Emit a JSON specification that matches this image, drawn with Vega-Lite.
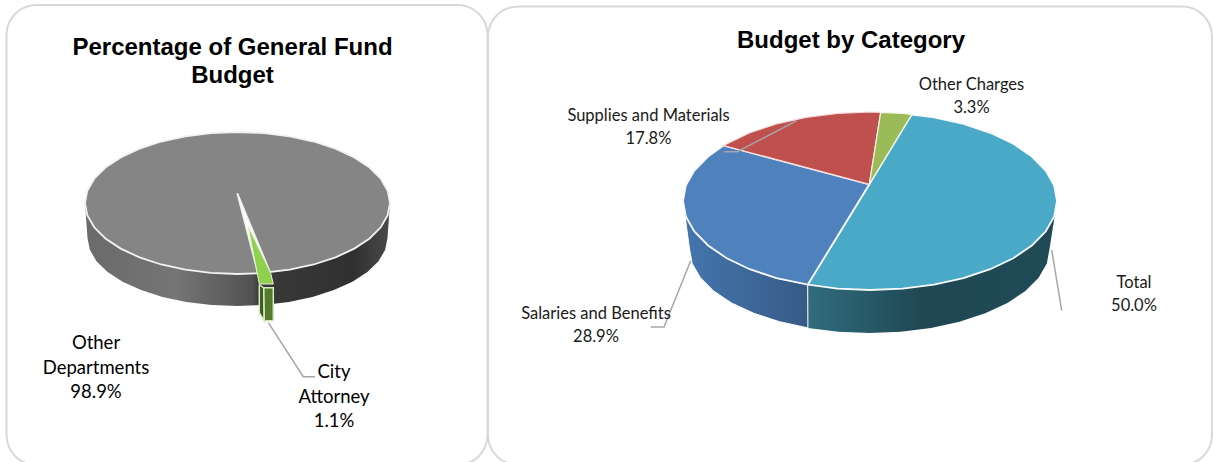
{"$schema":"https://vega.github.io/schema/vega-lite/v6.json","width":1213,"height":462,"padding":0,"autosize":{"type":"none"},"background":"white","view":{"stroke":null},"encoding":{"x":{"field":"x","type":"quantitative","axis":null,"scale":{"domain":[0,1213],"nice":false,"zero":false}},"y":{"field":"y","type":"quantitative","axis":null,"scale":{"domain":[0,462],"reverse":true,"nice":false,"zero":false}}},"layer":[
{"data":{"values":[{"panel":"left","x":6.5,"x2":487.5,"y":5,"y2":465},{"panel":"right","x":488,"x2":1212,"y":6.5,"y2":465}]},"mark":{"type":"rect","cornerRadius":30,"fill":"white","stroke":"#d9d9d9","strokeWidth":2},"encoding":{"x2":{"field":"x2"},"y2":{"field":"y2"}}},
{"data":{"values":[{"x":85,"y":203},{"x":87.3,"y":215.3},{"x":94.2,"y":227.3},{"x":105.4,"y":238.5},{"x":120.7,"y":248.6},{"x":139.5,"y":257.4},{"x":161.2,"y":264.5},{"x":185.3,"y":269.7},{"x":211,"y":272.9},{"x":237.5,"y":274},{"x":264,"y":272.9},{"x":289.7,"y":269.7},{"x":313.8,"y":264.5},{"x":335.5,"y":257.4},{"x":354.3,"y":248.6},{"x":369.6,"y":238.5},{"x":380.8,"y":227.3},{"x":387.7,"y":215.3},{"x":390,"y":203},{"x":387.5,"y":238},{"x":385.2,"y":249.8},{"x":378.5,"y":261.3},{"x":367.4,"y":272},{"x":352.4,"y":281.7},{"x":333.9,"y":290.1},{"x":312.5,"y":296.9},{"x":288.8,"y":301.9},{"x":263.5,"y":305},{"x":237.5,"y":306},{"x":211.5,"y":305},{"x":186.2,"y":301.9},{"x":162.5,"y":296.9},{"x":141.1,"y":290.1},{"x":122.6,"y":281.7},{"x":107.6,"y":272},{"x":96.5,"y":261.3},{"x":89.8,"y":249.8},{"x":87.5,"y":238},{"x":85,"y":203}]},"mark":{"type":"line","order":null,"strokeWidth":0,"fill":{"gradient":"linear","x1":0,"y1":0,"x2":1,"y2":0,"stops":[{"offset":0,"color":"#6a6a6a"},{"offset":0.3,"color":"#757575"},{"offset":0.55,"color":"#525252"},{"offset":0.57,"color":"#3a3a3a"},{"offset":0.88,"color":"#303030"},{"offset":1,"color":"#4a4a4a"}]}}},
{"data":{"values":[{"x":237.3,"y":193.3},{"x":270,"y":272},{"x":289.7,"y":269.7},{"x":313.8,"y":264.5},{"x":335.5,"y":257.4},{"x":354.3,"y":248.6},{"x":369.6,"y":238.5},{"x":380.8,"y":227.3},{"x":387.7,"y":215.3},{"x":390,"y":203},{"x":387.7,"y":190.7},{"x":380.8,"y":178.7},{"x":369.6,"y":167.5},{"x":354.3,"y":157.4},{"x":335.5,"y":148.6},{"x":313.8,"y":141.5},{"x":289.7,"y":136.3},{"x":264,"y":133.1},{"x":237.5,"y":132},{"x":211,"y":133.1},{"x":185.3,"y":136.3},{"x":161.2,"y":141.5},{"x":139.5,"y":148.6},{"x":120.7,"y":157.4},{"x":105.4,"y":167.5},{"x":94.2,"y":178.7},{"x":87.3,"y":190.7},{"x":85,"y":203},{"x":87.3,"y":215.3},{"x":94.2,"y":227.3},{"x":105.4,"y":238.5},{"x":120.7,"y":248.6},{"x":139.5,"y":257.4},{"x":161.2,"y":264.5},{"x":185.3,"y":269.7},{"x":211,"y":272.9},{"x":237.5,"y":274},{"x":258,"y":273.3},{"x":237.3,"y":193.3}]},"mark":{"type":"line","order":null,"fill":"#858585","stroke":"#f2f2f2","strokeWidth":1.8}},
{"data":{"values":[{"x":259.3,"y":284.5},{"x":263.8,"y":288},{"x":264.3,"y":321},{"x":259.3,"y":313},{"x":259.3,"y":284.5}]},"mark":{"type":"line","order":null,"fill":"#3f5a20","stroke":"#d8ecc0","strokeWidth":1.5}},
{"data":{"values":[{"x":263.8,"y":287.7},{"x":273.3,"y":287.7},{"x":273.3,"y":320.5},{"x":264.3,"y":321},{"x":263.8,"y":287.7}]},"mark":{"type":"line","order":null,"fill":"#557a2d","stroke":"#d8ecc0","strokeWidth":1.5}},
{"data":{"values":[{"x":248,"y":226},{"x":270.5,"y":272.5},{"x":273.3,"y":284},{"x":259.3,"y":284},{"x":248,"y":226}]},"mark":{"type":"line","order":null,"fill":"#8fd14f","stroke":"#e4f2d2","strokeWidth":1}},
{"data":{"values":[{"x":1057,"y":201},{"x":1054.2,"y":216.5},{"x":1045.7,"y":231.4},{"x":1031.9,"y":245.5},{"x":1013.3,"y":258.2},{"x":990.2,"y":269.2},{"x":963.5,"y":278.1},{"x":934,"y":284.6},{"x":902.5,"y":288.6},{"x":870,"y":290},{"x":837.5,"y":288.6},{"x":807.7,"y":284.6},{"x":807.9,"y":327.9},{"x":838.2,"y":331.7},{"x":869.5,"y":333},{"x":900.8,"y":331.7},{"x":931.1,"y":327.9},{"x":959.5,"y":321.7},{"x":985.2,"y":313.3},{"x":1007.4,"y":303},{"x":1025.4,"y":291},{"x":1038.6,"y":277.7},{"x":1046.8,"y":263.6},{"x":1049.5,"y":249},{"x":1057,"y":201}]},"mark":{"type":"line","order":null,"strokeWidth":0,"fill":{"gradient":"linear","x1":0,"y1":0,"x2":1,"y2":0,"stops":[{"offset":0,"color":"#316d7e"},{"offset":0.45,"color":"#1f4854"},{"offset":1,"color":"#1f4a56"}]}}},
{"data":{"values":[{"x":683,"y":201},{"x":685.8,"y":216.5},{"x":694.3,"y":231.4},{"x":708.1,"y":245.5},{"x":726.7,"y":258.2},{"x":749.8,"y":269.2},{"x":776.5,"y":278.1},{"x":807.7,"y":284.6},{"x":807.9,"y":327.9},{"x":779.5,"y":321.7},{"x":753.8,"y":313.3},{"x":731.6,"y":303},{"x":713.6,"y":291},{"x":700.4,"y":277.7},{"x":692.2,"y":263.6},{"x":689.5,"y":249},{"x":683,"y":201}]},"mark":{"type":"line","order":null,"stroke":"white","strokeWidth":1,"fill":{"gradient":"linear","x1":0,"y1":0,"x2":1,"y2":0,"stops":[{"offset":0,"color":"#4476ae"},{"offset":1,"color":"#375a86"}]}}},
{"data":{"values":[{"x":869.3,"y":184.3},{"x":911.7,"y":114.5},{"x":934,"y":117.4},{"x":963.5,"y":123.9},{"x":990.2,"y":132.8},{"x":1013.3,"y":143.8},{"x":1031.9,"y":156.5},{"x":1045.7,"y":170.6},{"x":1054.2,"y":185.5},{"x":1057,"y":201},{"x":1054.2,"y":216.5},{"x":1045.7,"y":231.4},{"x":1031.9,"y":245.5},{"x":1013.3,"y":258.2},{"x":990.2,"y":269.2},{"x":963.5,"y":278.1},{"x":934,"y":284.6},{"x":902.5,"y":288.6},{"x":870,"y":290},{"x":837.5,"y":288.6},{"x":807.7,"y":284.6},{"x":869.3,"y":184.3}]},"mark":{"type":"line","order":null,"fill":"#4aa9c6","stroke":"#f7fbfc","strokeWidth":1.8}},
{"data":{"values":[{"x":869.3,"y":184.3},{"x":807.7,"y":284.6},{"x":776.5,"y":278.1},{"x":749.8,"y":269.2},{"x":726.7,"y":258.2},{"x":708.1,"y":245.5},{"x":694.3,"y":231.4},{"x":685.8,"y":216.5},{"x":683,"y":201},{"x":685.8,"y":185.5},{"x":694.3,"y":170.6},{"x":708.1,"y":156.5},{"x":723.5,"y":145.5},{"x":869.3,"y":184.3}]},"mark":{"type":"line","order":null,"fill":"#4f81bd","stroke":"#f7f9fc","strokeWidth":1.8}},
{"data":{"values":[{"x":869.3,"y":184.3},{"x":723.5,"y":145.5},{"x":749.8,"y":132.8},{"x":776.5,"y":123.9},{"x":806,"y":117.4},{"x":837.5,"y":113.4},{"x":870,"y":112},{"x":880.7,"y":112.4},{"x":869.3,"y":184.3}]},"mark":{"type":"line","order":null,"fill":"#c0504d","stroke":"#f3dcdb","strokeWidth":1.2}},
{"data":{"values":[{"x":869.3,"y":184.3},{"x":880.7,"y":112.4},{"x":902.5,"y":113.4},{"x":911.7,"y":114.5},{"x":869.3,"y":184.3}]},"mark":{"type":"line","order":null,"fill":"#9bbb59","stroke":"#f2f6e6","strokeWidth":1.2}},
{"data":{"values":[{"leader":"City Attorney","x":268.3,"y":322.7},{"leader":"City Attorney","x":303.3,"y":376.7},{"leader":"City Attorney","x":315,"y":376.7},{"leader":"Total","x":1051.7,"y":250},{"leader":"Total","x":1061.7,"y":310.7},{"leader":"Salaries","x":690.7,"y":260.7},{"leader":"Salaries","x":664,"y":327},{"leader":"Salaries","x":650.7,"y":327},{"leader":"Supplies","x":796.7,"y":120.7},{"leader":"Supplies","x":737.3,"y":151.7},{"leader":"Supplies","x":724,"y":151.7}]},"mark":{"type":"line","order":null,"stroke":"#a6a6a6","strokeWidth":1.5},"encoding":{"detail":{"field":"leader"}}},
{"data":{"values":[{"label":"Percentage of General Fund\nBudget","x":232.5,"y":47.5},{"label":"Budget by Category","x":851,"y":41}]},"mark":{"type":"text","align":"center","baseline":"middle","font":"Liberation Sans","fontWeight":"bold","fontSize":24,"lineHeight":28,"lineBreak":"\n","color":"#000000"},"encoding":{"text":{"field":"label"}}},
{"data":{"values":[{"label":"Other\nDepartments\n98.9%","x":96,"y":343},{"label":"City\nAttorney\n1.1%","x":334,"y":372}]},"mark":{"type":"text","align":"center","baseline":"middle","font":"Lato","fontSize":18.5,"lineHeight":24.7,"lineBreak":"\n","color":"#000000"},"encoding":{"text":{"field":"label"}}},
{"data":{"values":[{"label":"Other Charges\n3.3%","x":971.5,"y":85},{"label":"Supplies and Materials\n17.8%","x":648.5,"y":116},{"label":"Total\n50.0%","x":1134,"y":283},{"label":"Salaries and Benefits\n28.9%","x":596,"y":314}]},"mark":{"type":"text","align":"center","baseline":"middle","font":"Lato","fontSize":16.5,"lineHeight":22.5,"lineBreak":"\n","color":"#1a1a1a"},"encoding":{"text":{"field":"label"}}}
]}
